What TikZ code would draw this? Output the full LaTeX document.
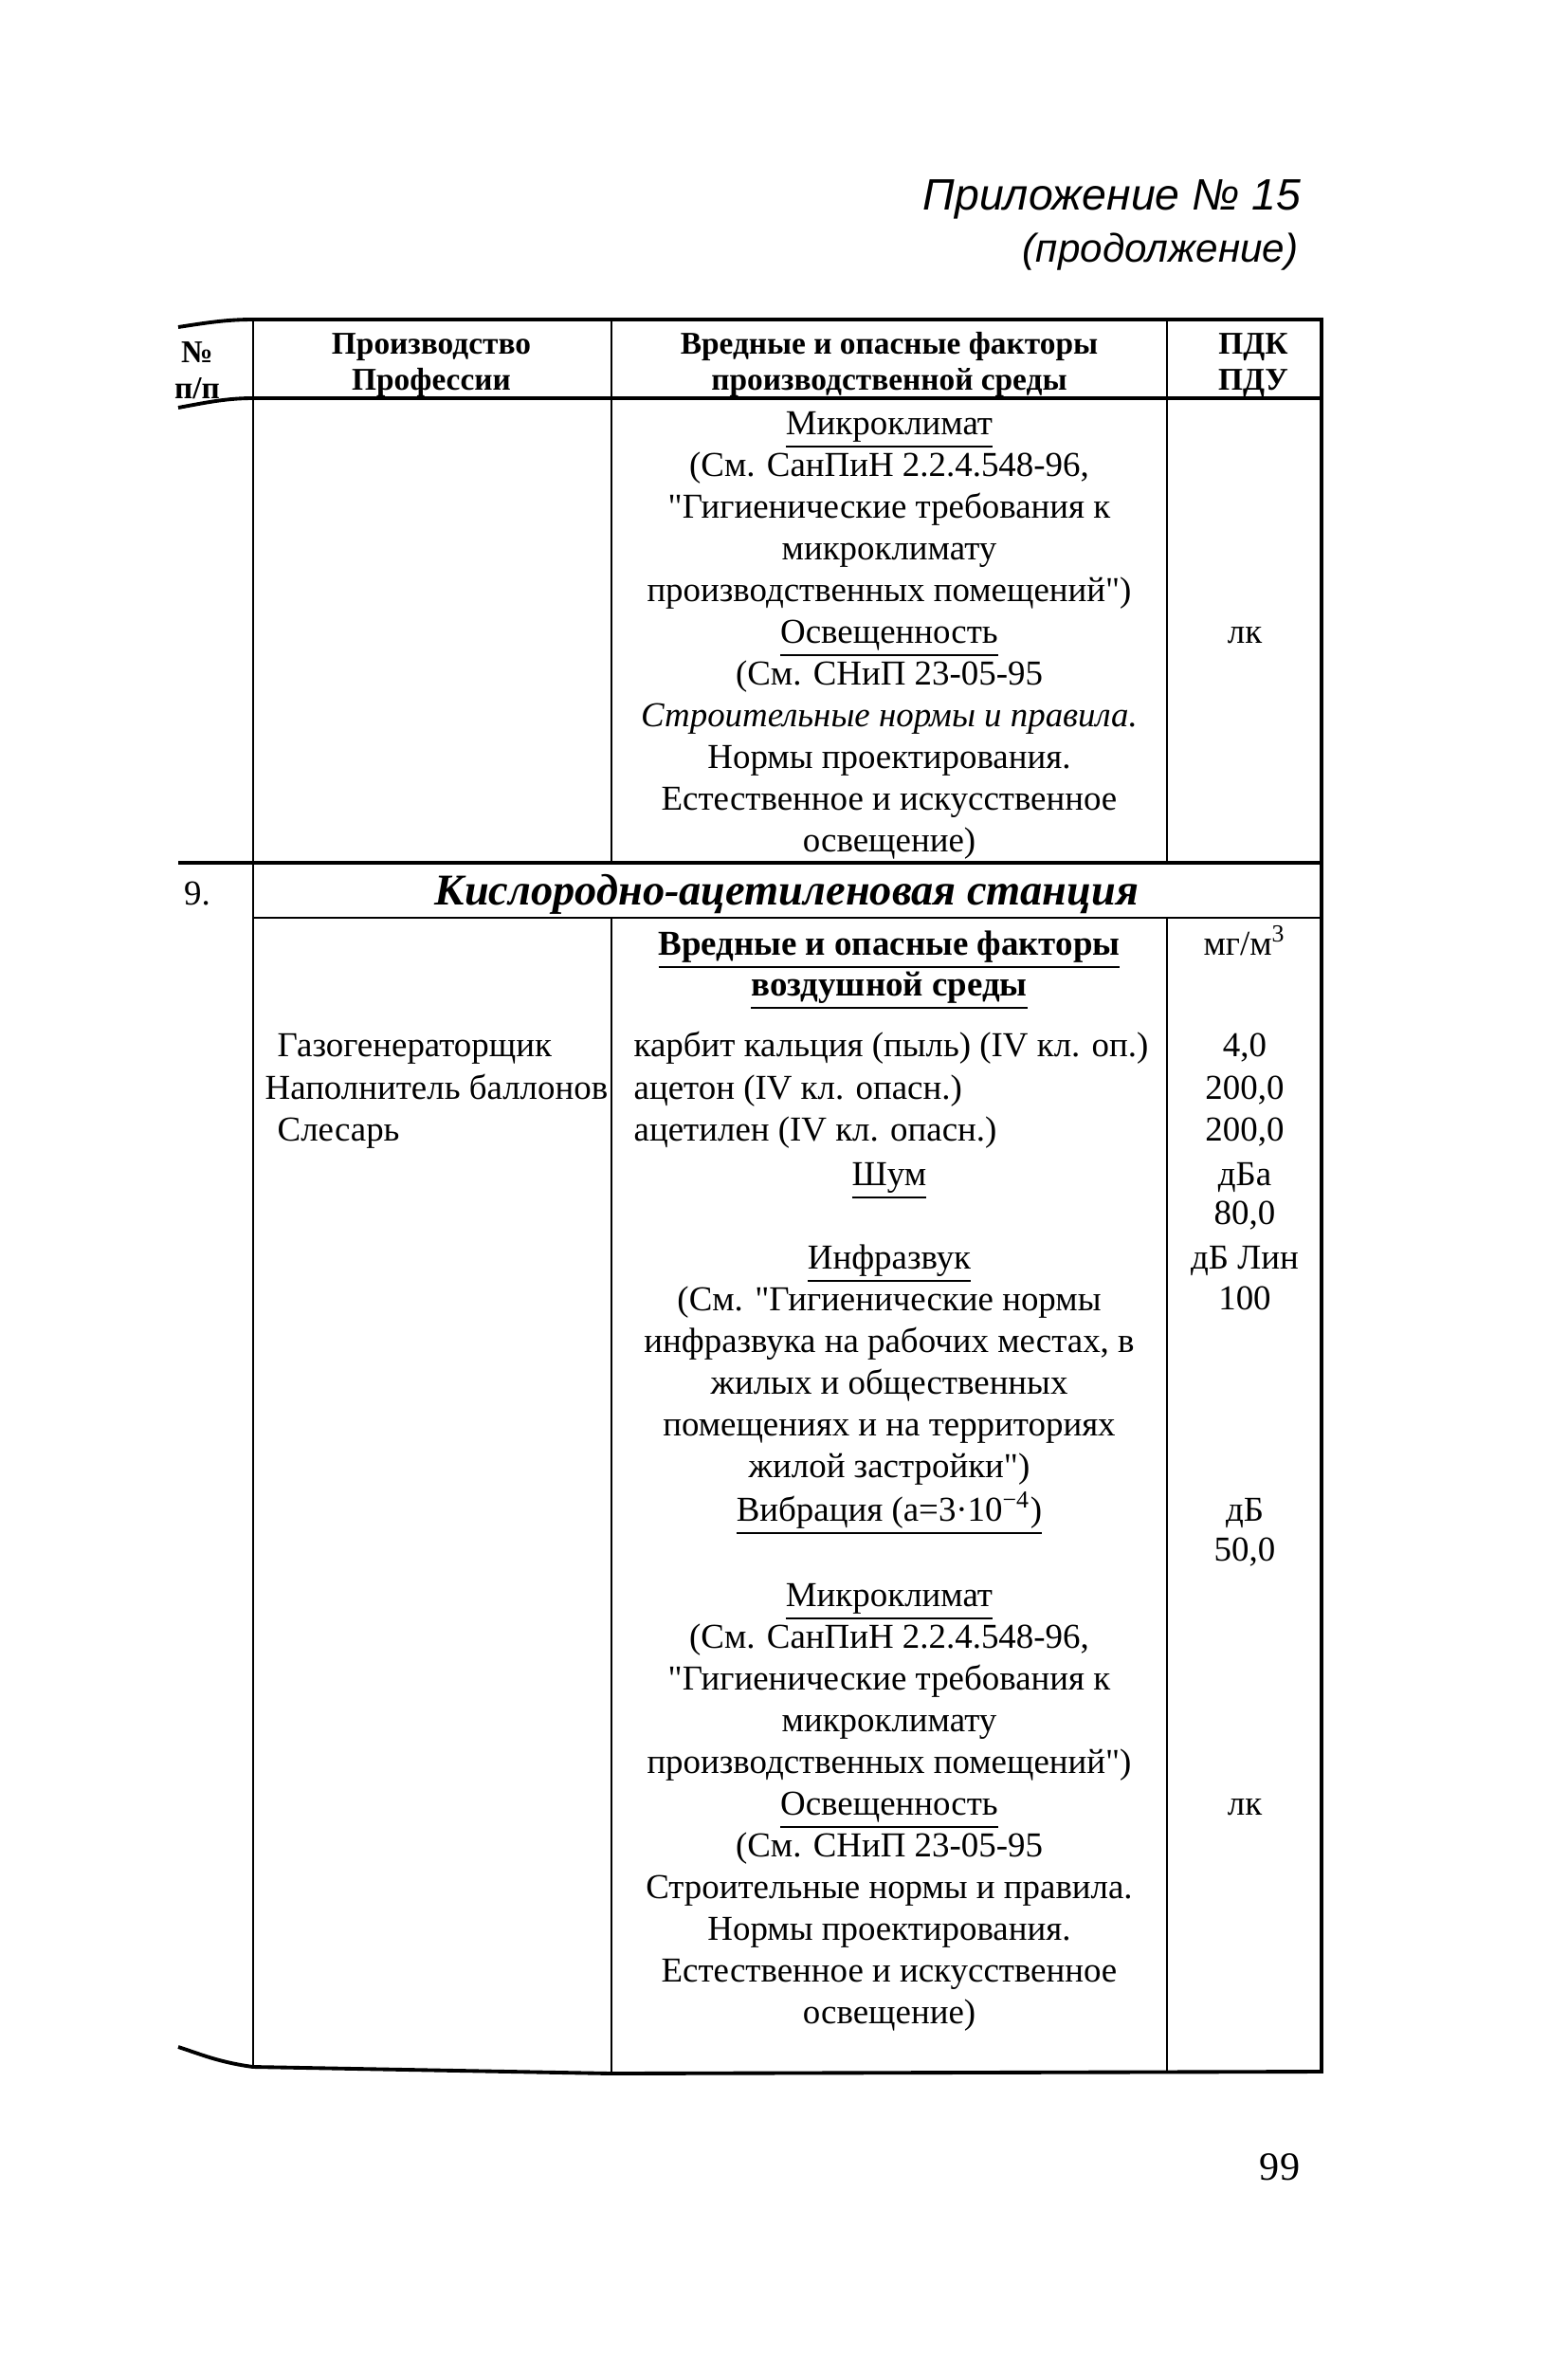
\documentclass[tikz,border=0pt]{standalone}
\usepackage{fontspec}
\setmainfont{Liberation Serif}[Ligatures=TeXOff]
\newfontfamily\headfont{Liberation Sans}
\tikzset{
  txt/.style={anchor=mid, inner sep=0pt, yshift=-1.2pt, font=\fontsize{10.5}{12}\selectfont},
  hdr/.style={anchor=mid, inner sep=0pt, yshift=-1.2pt, font=\fontsize{9.5}{11}\selectfont\bfseries},
  ttl/.style={inner sep=0pt, font=\headfont\fontsize{13.2}{16}\selectfont\itshape},
  frame/.style={line width=1.1pt},
  rule/.style={line width=0.8pt},
  grid/.style={line width=0.5pt},
}
\begin{document}
\begin{tikzpicture}
\useasboundingbox[fill=white] (0,0) rectangle (16.53,-25.05);

% Title
\node[ttl,anchor=mid east] (appx) at (13.73,-2.13) {Приложение № 15};
\node[ttl,anchor=mid east,font=\headfont\fontsize{12}{14}\selectfont\itshape] (cont) at (13.70,-2.68) {(продолжение)};

% Frame
\draw[frame] (1.88,-3.45) .. controls (2.2,-3.40) and (2.4,-3.37) .. (2.67,-3.37) -- (13.94,-3.37) -- (13.94,-21.85) -- (6.45,-21.87) -- (2.67,-21.80) .. controls (2.3,-21.75) and (2.1,-21.66) .. (1.88,-21.59);
\draw[frame] (1.88,-4.30) .. controls (2.2,-4.24) and (2.4,-4.20) .. (2.67,-4.20) -- (13.94,-4.20);
\draw[frame] (1.88,-9.10) -- (13.94,-9.10);
\draw[rule] (2.67,-9.68) -- (13.94,-9.68);

%Columns
\draw[grid] (2.67,-3.37) -- (2.67,-21.80);
\draw[grid] (6.45,-3.37) -- (6.45,-9.10) (6.45,-9.68) -- (6.45,-21.86);
\draw[grid] (12.31,-3.37) -- (12.31,-9.10) (12.31,-9.68) -- (12.31,-21.85);

%Header
\node[hdr] (nr) at (2.08,-3.70) {№};
\node[hdr] (pp) at (2.08,-4.08) {п/п};
\node[hdr] (prod) at (4.55,-3.61) {Производство};
\node[hdr] (prof) at (4.55,-3.99) {Профессии};
\node[hdr] (fac1) at (9.38,-3.61) {Вредные и опасные факторы};
\node[hdr] (fac2) at (9.38,-3.99) {производственной среды};
\node[hdr] (pdk) at (13.22,-3.61) {ПДК};
\node[hdr] (pdu) at (13.22,-3.99) {ПДУ};

%Rows before 9
\node[txt] (mk) at (9.38,-4.46) {\underline{Микроклимат}};
\node[txt] (mk1) at (9.38,-4.90) {(См. СанПиН 2.2.4.548-96,};
\node[txt] (mk2) at (9.38,-5.34) {"Гигиенические требования к};
\node[txt] (mk3) at (9.38,-5.78) {микроклимату};
\node[txt] (mk4) at (9.38,-6.22) {производственных помещений")};
\node[txt] (osv) at (9.38,-6.66) {\underline{Освещенность}};
\node[txt] (osv1) at (9.38,-7.10) {(См. СНиП 23-05-95};
\node[txt] (osv2) at (9.38,-7.54) {\itshape Строительные нормы и правила.};
\node[txt] (osv3) at (9.38,-7.98) {Нормы проектирования.};
\node[txt] (osv4) at (9.38,-8.42) {Естественное и искусственное};
\node[txt] (osv5) at (9.38,-8.86) {освещение)};
\node[txt] (lk) at (13.13,-6.66) {лк};

%Row 9
\node[txt] (n9) at (2.08,-9.42) {9.};
\node[txt,font=\fontsize{13.2}{15}\selectfont\bfseries\itshape] (st) at (8.30,-9.42) {Кислородно-ацетиленовая станция};

\node[txt,font=\fontsize{10.5}{12}\selectfont\bfseries] (air1) at (9.38,-9.95) {\underline{Вредные и опасные факторы}};
\node[txt,font=\fontsize{10.5}{12}\selectfont\bfseries] (air2) at (9.38,-10.38) {\underline{воздушной среды}};
\node[txt] (mg) at (13.13,-9.95) {мг/м\textsuperscript{3}};

\node[txt,anchor=mid west] (w1) at (2.92,-11.02) {Газогенераторщик};
\node[txt,anchor=mid west] (w2) at (2.79,-11.47) {Наполнитель баллонов};
\node[txt,anchor=mid west] (w3) at (2.92,-11.91) {Слесарь};

\node[txt,anchor=mid west] (s1) at (6.68,-11.02) {карбит кальция (пыль) (IV кл. оп.)};
\node[txt,anchor=mid west] (s2) at (6.68,-11.47) {ацетон (IV кл. опасн.)};
\node[txt,anchor=mid west] (s3) at (6.68,-11.91) {ацетилен (IV кл. опасн.)};
\node[txt] (v1) at (13.13,-11.02) {4,0};
\node[txt] (v2) at (13.13,-11.47) {200,0};
\node[txt] (v3) at (13.13,-11.91) {200,0};

\node[txt] (noise) at (9.38,-12.38) {\underline{Шум}};
\node[txt] (dba) at (13.13,-12.38) {дБа};
\node[txt] (dbav) at (13.13,-12.79) {80,0};

\node[txt] (inf) at (9.38,-13.26) {\underline{Инфразвук}};
\node[txt] (dbl) at (13.13,-13.26) {дБ Лин};
\node[txt] (dblv) at (13.13,-13.69) {100};
\node[txt] (inf1) at (9.38,-13.70) {(См. "Гигиенические нормы};
\node[txt] (inf2) at (9.38,-14.14) {инфразвука на рабочих местах, в};
\node[txt] (inf3) at (9.38,-14.58) {жилых и общественных};
\node[txt] (inf4) at (9.38,-15.02) {помещениях и на территориях};
\node[txt] (inf5) at (9.38,-15.46) {жилой застройки")};

\node[txt] (vib) at (9.38,-15.92) {\underline{Вибрация (а=3·10\textsuperscript{−4})}};
\node[txt] (db) at (13.13,-15.92) {дБ};
\node[txt] (dbv) at (13.13,-16.34) {50,0};

\node[txt] (mkb) at (9.38,-16.82) {\underline{Микроклимат}};
\node[txt] (mkb1) at (9.38,-17.26) {(См. СанПиН 2.2.4.548-96,};
\node[txt] (mkb2) at (9.38,-17.70) {"Гигиенические требования к};
\node[txt] (mkb3) at (9.38,-18.14) {микроклимату};
\node[txt] (mkb4) at (9.38,-18.58) {производственных помещений")};
\node[txt] (osvb) at (9.38,-19.02) {\underline{Освещенность}};
\node[txt] (lkb) at (13.13,-19.02) {лк};
\node[txt] (osvb1) at (9.38,-19.46) {(См. СНиП 23-05-95};
\node[txt] (osvb2) at (9.38,-19.90) {Строительные нормы и правила.};
\node[txt] (osvb3) at (9.38,-20.34) {Нормы проектирования.};
\node[txt] (osvb4) at (9.38,-20.78) {Естественное и искусственное};
\node[txt] (osvb5) at (9.38,-21.22) {освещение)};

%Page
\node[txt,font=\fontsize{12}{14}\selectfont] (page) at (13.50,-22.87) {99};

\end{tikzpicture}
\end{document}
